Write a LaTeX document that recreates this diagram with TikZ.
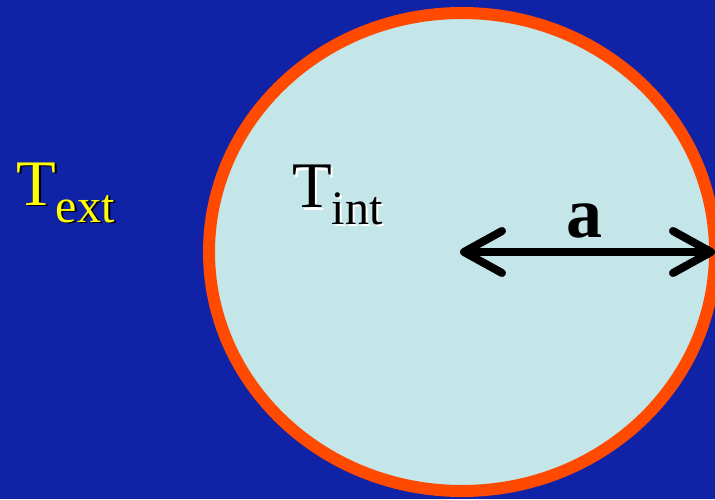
\documentclass[tikz,border=0pt]{standalone}
\usepackage{fontspec}
\setmainfont{Liberation Serif}
\usetikzlibrary{arrows.meta}
\definecolor{bgblue}{HTML}{1022A6}
\definecolor{rimorange}{HTML}{FF4A00}
\definecolor{insidecyan}{HTML}{C5E6E8}
\definecolor{labelyellow}{HTML}{FFFF00}
\newcommand{\bigsym}[2]{{\fontsize{65}{70}\selectfont #1\raisebox{-17pt}{\fontsize{48}{52}\selectfont #2}}}
\begin{document}
\begin{tikzpicture}[x=1pt,y=1pt,
  lbl/.style={inner sep=0pt,anchor=base west},
  rim/.style={draw=rimorange,fill=insidecyan,line width=12pt},
  radiusarrow/.style={line width=8pt,line cap=round,
    {Straight Barb[length=38pt,width=42pt,round]}-{Straight Barb[length=38pt,width=42pt,round]}}]
\useasboundingbox[fill=bgblue] (0,0) rectangle (715,499);
\draw[rim] (462,247) ellipse [x radius=253, y radius=239];
% T_ext with shadow
\node[lbl,text=black] (textshadow) at (18,292) {\bigsym{T}{ext}};
\node[lbl,text=labelyellow] (text) at (16,294) {\bigsym{T}{ext}};
% T_int with light shadow
\node[lbl,text=white] (tintshadow) at (294,289) {\bigsym{T}{int}};
\node[lbl,text=black] (tint) at (292,291) {\bigsym{T}{int}};
% radius arrow
\coordinate (centre) at (460,247);
\coordinate (edge) at (715,247);
\draw[radiusarrow] (centre) -- (edge);
\node[lbl,text=black] (alabel) at (566,262) {\fontsize{72}{76}\selectfont\bfseries a};
\end{tikzpicture}
\end{document}
